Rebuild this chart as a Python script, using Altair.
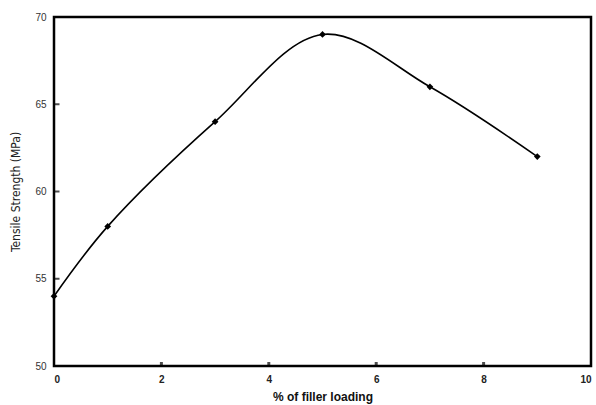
import altair as alt
import pandas as pd

filler = [0, 1, 3, 5, 7, 9]
strength = [54, 58, 64, 69, 66, 62]
y_ticks = [55, 60, 65]
x_ticks = [2, 4, 6, 8]

df = pd.DataFrame({"x": filler, "y": strength})
ydf = pd.DataFrame({"x": [0] * len(y_ticks), "y": y_ticks})
xdf = pd.DataFrame({"x": x_ticks, "y": [50] * len(x_ticks)})

xs = alt.Scale(domain=[0, 10], nice=False)
ys = alt.Scale(domain=[50, 70], nice=False)

xaxis = alt.Axis(values=[0, 2, 4, 6, 8, 10], title="% of filler loading", grid=False,
                 domain=False, ticks=False, labelPadding=8, labelFontWeight="bold",
                 labelFontSize=10, labelColor="#222", labelFont="Liberation Sans",
                 titleFont="Liberation Sans", titleFontSize=12, titleFontWeight="bold",
                 titleColor="#111", titlePadding=7)
yaxis = alt.Axis(values=[50, 55, 60, 65, 70], title="Tensile Strength (MPa)", grid=False,
                 domain=False, ticks=False, labelPadding=8, labelFontSize=10,
                 labelColor="#333", labelFont="Liberation Sans",
                 titleFont="DejaVu Sans Condensed, Liberation Sans, sans-serif",
                 titleFontSize=12, titleFontWeight="normal",
                 titleColor="#222", titlePadding=12)

line = alt.Chart(df).mark_line(color="black", strokeWidth=1.6, interpolate="catmull-rom").encode(
    x=alt.X("x:Q", scale=xs, axis=xaxis),
    y=alt.Y("y:Q", scale=ys, axis=yaxis),
)
pts = alt.Chart(df).mark_point(shape="diamond", filled=True, color="black", size=45, opacity=1).encode(
    x=alt.X("x:Q", scale=xs), y=alt.Y("y:Q", scale=ys)
)
yt = alt.Chart(ydf).mark_tick(color="black", size=5, thickness=2, orient="horizontal", xOffset=3).encode(
    x=alt.X("x:Q", scale=xs), y=alt.Y("y:Q", scale=ys)
)
xt = alt.Chart(xdf).mark_tick(color="black", size=4, thickness=3, orient="vertical", yOffset=-2).encode(
    x=alt.X("x:Q", scale=xs), y=alt.Y("y:Q", scale=ys)
)

chart = alt.layer(line, pts, yt, xt).properties(
    width=537, height=349,
    autosize=alt.AutoSizeParams(type="none"),
    padding={"left": 54, "top": 17, "right": 5, "bottom": 39},
    background="white",
).configure_view(stroke="black", strokeWidth=2.5)

chart.save("out.html", embed_options={"renderer": "svg", "actions": False})
